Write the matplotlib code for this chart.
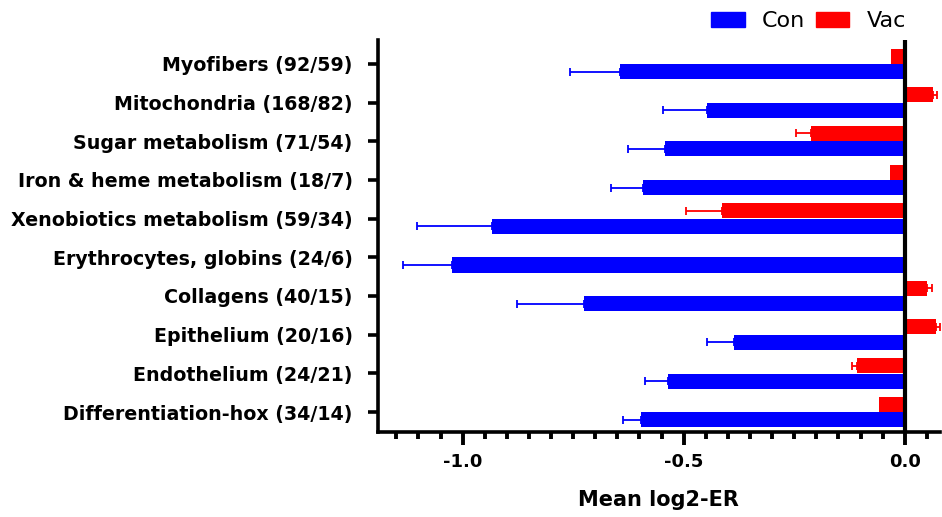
import matplotlib.pyplot as plt
import numpy as np
from matplotlib.ticker import MultipleLocator
from matplotlib.patches import Patch

categories = [
    "Myofibers (92/59)",
    "Mitochondria (168/82)",
    "Sugar metabolism (71/54)",
    "Iron & heme metabolism (18/7)",
    "Xenobiotics metabolism (59/34)",
    "Erythrocytes, globins (24/6)",
    "Collagens (40/15)",
    "Epithelium (20/16)",
    "Endothelium (24/21)",
    "Differentiation-hox (34/14)",
]
con_mean = [-0.645, -0.448, -0.543, -0.593, -0.934, -1.024, -0.726, -0.387, -0.536, -0.597]
con_err = [0.113, 0.099, 0.082, 0.072, 0.170, 0.112, 0.150, 0.061, 0.052, 0.041]
vac_mean = [-0.030, 0.063, -0.213, -0.034, -0.414, 0.0, 0.050, 0.070, -0.109, -0.059]
vac_err = [0.0, 0.009, 0.033, 0.0, 0.081, 0.0, 0.011, 0.010, 0.011, 0.0]

plt.rcParams['font.family'] = ['DejaVu Sans']

fig = plt.figure(figsize=(9.42, 5.17), dpi=100)
ax = fig.add_axes([0.401, 0.164, 0.597, 0.759])

y = np.arange(len(categories))
h = 0.39


def draw_err(means, errs, ypos, color):
    # one-sided error bars pointing away from zero, skip empty ones
    means = np.array(means)
    errs = np.array(errs)
    keep = errs > 0
    m, e, yy = means[keep], errs[keep], ypos[keep]
    lo = np.where(m < 0, e, 0)
    hi = np.where(m >= 0, e, 0)
    ax.errorbar(m, yy, xerr=[lo, hi], fmt='none', ecolor=color,
                elinewidth=1.3, capsize=3, capthick=1.3, zorder=1)


ax.barh(y - 0.2, vac_mean, height=h, color='#ff0000', zorder=2)
ax.barh(y + 0.2, con_mean, height=h, color='#0000ff', zorder=2)
draw_err(vac_mean, vac_err, y - 0.2, '#ff0000')
draw_err(con_mean, con_err, y + 0.2, '#0000ff')

ax.axvline(0, color='black', lw=3, zorder=3)

ax.set_xlim(-1.192, 0.08)
ax.set_ylim(len(categories) - 1 + 0.52, -0.62)
ax.set_yticks(y)
ax.set_yticklabels(categories, fontsize=13.7, fontweight='bold')
ax.xaxis.set_minor_locator(MultipleLocator(0.05))
ax.set_xticks([-1.0, -0.5, 0.0])
ax.set_xticklabels(['-1.0', '-0.5', '0.0'], fontsize=13, fontweight='bold')
ax.set_xlabel('Mean log2-ER', fontsize=15, fontweight='bold', labelpad=14)

for s in ['top', 'right']:
    ax.spines[s].set_visible(False)
for s in ['left', 'bottom']:
    ax.spines[s].set_linewidth(2.6)
ax.tick_params(axis='y', length=7, width=2.6, pad=11)
ax.tick_params(axis='x', which='major', length=9, width=2.8, pad=6)
ax.tick_params(axis='x', which='minor', length=5, width=2.8)

handles = [Patch(color='#0000ff'), Patch(color='#ff0000')]
fig.legend(handles, ['Con', 'Vac'], loc='center right', bbox_to_anchor=(0.971, 0.959),
           borderaxespad=0, ncol=2, frameon=False, fontsize=16, handlelength=1.5,
           handleheight=0.72, columnspacing=0.5, handletextpad=0.77)

fig.savefig('out.png', dpi=100)
